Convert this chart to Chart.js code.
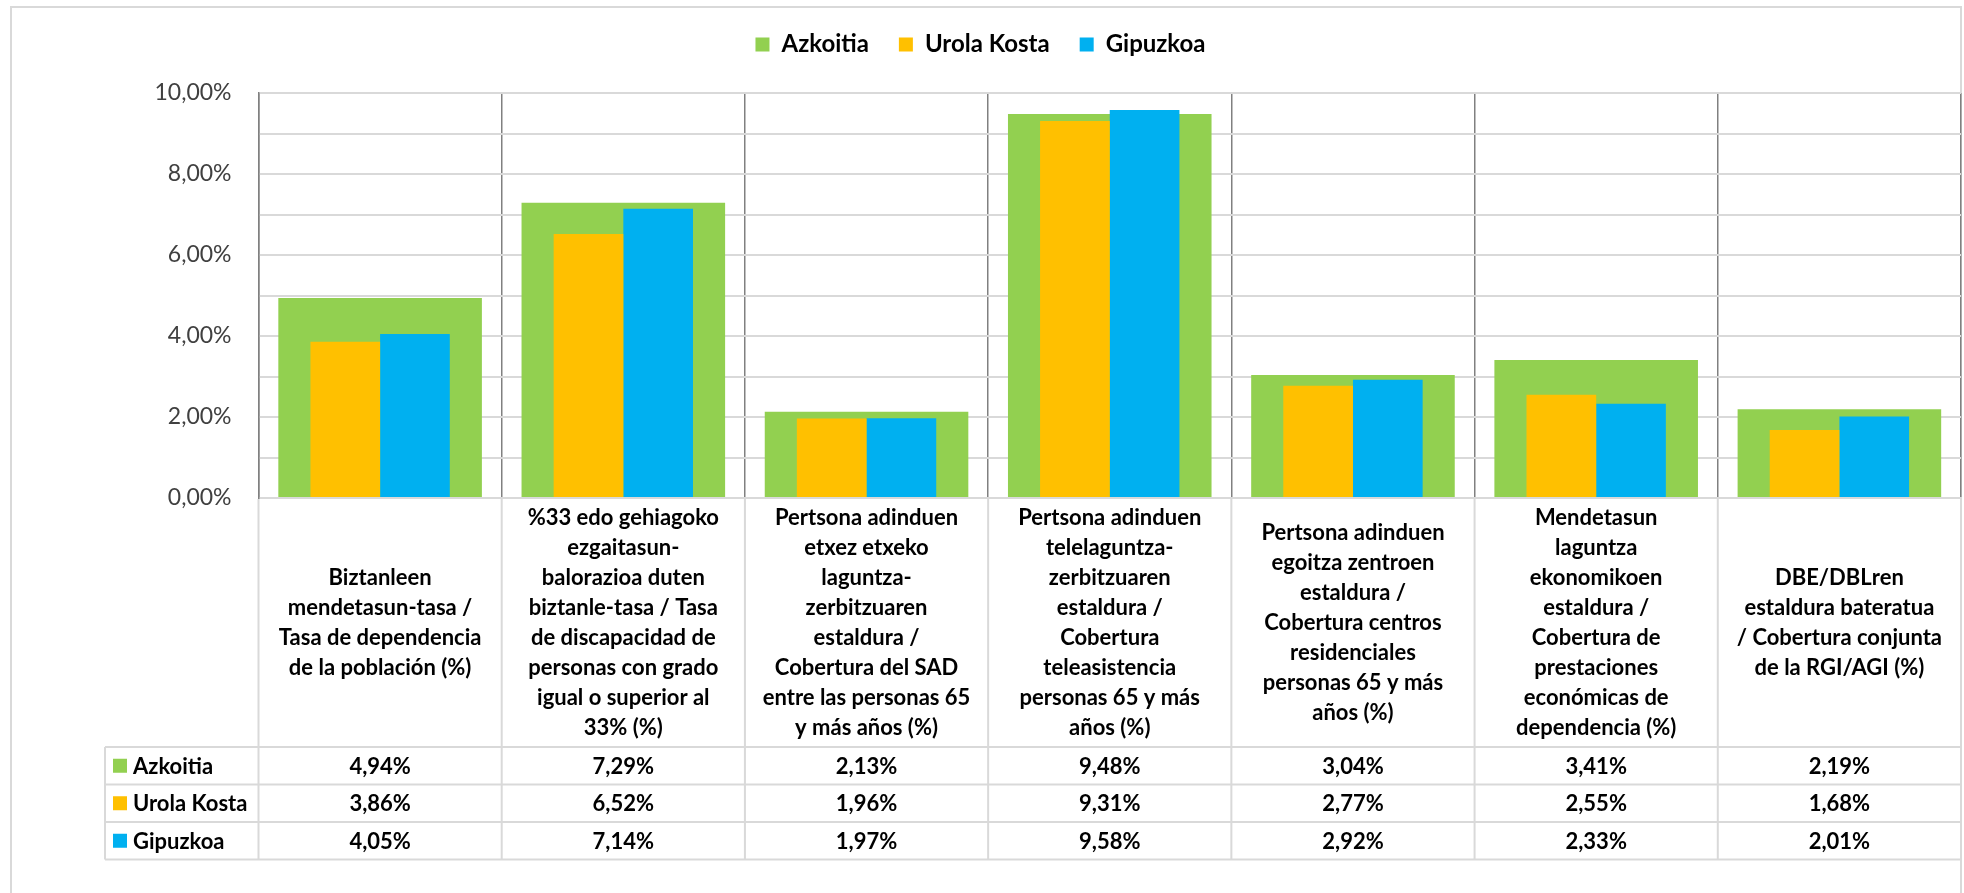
<!DOCTYPE html>
<html>
<head>
<meta charset="utf-8">
<script src="https://cdn.jsdelivr.net/npm/chart.js@4"></script>
<style>
    html, body { margin: 0; padding: 0; background: #ffffff; }
    #wrap { width: 1964px; height: 893px; }
</style>
</head>
<body>
<div id="wrap"><canvas id="container" width="1964" height="893"></canvas></div>
<script>
// category labels, one line per array entry (as wrapped in the original)
const categories = [
    ['Biztanleen', 'mendetasun-tasa /', 'Tasa de dependencia', 'de la población (%)'],
    ['%33 edo gehiagoko', 'ezgaitasun-', 'balorazioa duten', 'biztanle-tasa / Tasa', 'de discapacidad de', 'personas con grado', 'igual o superior al', '33% (%)'],
    ['Pertsona adinduen', 'etxez etxeko', 'laguntza-', 'zerbitzuaren', 'estaldura /', 'Cobertura del SAD', 'entre las personas 65', 'y más años (%)'],
    ['Pertsona adinduen', 'telelaguntza-', 'zerbitzuaren', 'estaldura /', 'Cobertura', 'teleasistencia', 'personas 65 y más', 'años (%)'],
    ['Pertsona adinduen', 'egoitza zentroen', 'estaldura /', 'Cobertura centros', 'residenciales', 'personas 65 y más', 'años (%)'],
    ['Mendetasun', 'laguntza', 'ekonomikoen', 'estaldura /', 'Cobertura de', 'prestaciones', 'económicas de', 'dependencia (%)'],
    ['DBE/DBLren', 'estaldura bateratua', '/ Cobertura conjunta', 'de la RGI/AGI (%)']
];

const seriesNames = ['Azkoitia', 'Urola Kosta', 'Gipuzkoa'];
const azkoitia = [4.94, 7.29, 2.13, 9.48, 3.04, 3.41, 2.19];
const urolaKosta = [3.86, 6.52, 1.96, 9.31, 2.77, 2.55, 1.68];
const gipuzkoa = [4.05, 7.14, 1.97, 9.58, 2.92, 2.33, 2.01];

const yMin = 0;
const yMax = 10;
const yStep = 1;

const colors = ['#92d050', '#ffc000', '#00b0f0'];

function pct(v) {
    return v.toFixed(2).replace('.', ',') + '%';
}

Chart.defaults.font.family = 'Lato';
Chart.defaults.color = '#000000';

// white background + outer frame
const frame = {
    id: 'frame',
    beforeDraw(chart) {
        const ctx = chart.ctx;
        ctx.save();
        ctx.fillStyle = '#ffffff';
        ctx.fillRect(0, 0, chart.width, chart.height);
        ctx.strokeStyle = '#d9d9d9';
        ctx.lineWidth = 2;
        ctx.strokeRect(11, 7, 1950, 1000);
        ctx.restore();
    }
};

// pushes the plot down below the legend
const legendGap = {
    id: 'legendGap',
    beforeInit(chart) {
        const fit = chart.legend.fit;
        chart.legend.fit = function () {
            fit.bind(chart.legend)();
            this.height += 26.5;
        };
    }
};

// data table under the plot
const dataTable = {
    id: 'dataTable',
    afterDraw(chart) {
        const { ctx, chartArea, scales: { x } } = chart;
        const n = categories.length;
        const colW = chartArea.width / n;
        const top = chartArea.bottom;
        const headerBottom = top + 249;
        const rowH = 37.5;
        const tableLeft = 105;
        const tableBottom = headerBottom + rowH * 3;
        const lineH = 30;

        ctx.save();
        ctx.strokeStyle = '#d9d9d9';
        ctx.lineWidth = 2;
        ctx.beginPath();
        for (let r = 0; r <= 3; r++) {
            const y = headerBottom + r * rowH;
            ctx.moveTo(tableLeft, y);
            ctx.lineTo(chartArea.right, y);
        }
        for (let i = 0; i <= n; i++) {
            const xi = chartArea.left + i * colW;
            ctx.moveTo(xi, top + 1);
            ctx.lineTo(xi, tableBottom);
        }
        ctx.moveTo(tableLeft, headerBottom);
        ctx.lineTo(tableLeft, tableBottom);
        ctx.stroke();

        ctx.fillStyle = '#000000';
        ctx.font = 'bold 22px Lato';
        ctx.textAlign = 'center';
        ctx.textBaseline = 'middle';
        const headerMid = (top + headerBottom) / 2;
        categories.forEach((lines, i) => {
            const cx = x.getPixelForValue(i);
            const start = headerMid - (lines.length - 1) * lineH / 2;
            lines.forEach((line, j) => ctx.fillText(line, cx, start + j * lineH));
        });

        chart.data.datasets.forEach((ds, r) => {
            const cy = headerBottom + rowH * (r + 0.5);
            ctx.fillStyle = ds.backgroundColor;
            ctx.fillRect(113, cy - 7, 14, 14);
            ctx.fillStyle = '#000000';
            ctx.textAlign = 'left';
            ctx.fillText(ds.label, 133, cy + 1);
            ctx.textAlign = 'center';
            ds.data.forEach((v, i) => ctx.fillText(pct(v), x.getPixelForValue(i), cy + 1));
        });
        ctx.restore();
    }
};

const ctx = document.getElementById('container').getContext('2d');

const chart = new Chart(ctx, {
    type: 'bar',
    data: {
        labels: categories,
        datasets: [
            {
                // wide bar behind the other two
                label: seriesNames[0],
                data: azkoitia,
                backgroundColor: colors[0],
                borderWidth: 0,
                grouped: false,
                order: 2,
                categoryPercentage: 1,
                barPercentage: 0.837
            },
            {
                label: seriesNames[1],
                data: urolaKosta,
                backgroundColor: colors[1],
                borderWidth: 0,
                order: 1,
                categoryPercentage: 0.573,
                barPercentage: 1
            },
            {
                label: seriesNames[2],
                data: gipuzkoa,
                backgroundColor: colors[2],
                borderWidth: 0,
                order: 1,
                categoryPercentage: 0.573,
                barPercentage: 1
            }
        ]
    },
    options: {
        responsive: false,
        animation: false,
        devicePixelRatio: 1,
        layout: {
            padding: { top: 2.5, left: 0, right: 3, bottom: 395 }
        },
        plugins: {
            tooltip: { enabled: false },
            legend: {
                position: 'top',
                labels: {
                    boxWidth: 14,
                    boxHeight: 14,
                    padding: 30,
                    color: '#000000',
                    font: { size: 24, weight: 'bold' },
                    sort: (a, b) => a.datasetIndex - b.datasetIndex
                }
            }
        },
        scales: {
            x: {
                offset: true,
                ticks: { display: false },
                grid: { color: '#808080', lineWidth: 1.5, drawTicks: false, offset: true },
                border: { color: '#d9d9d9', width: 2 },
                afterFit: (s) => { s.height = 0; }
            },
            y: {
                min: yMin,
                max: yMax,
                ticks: {
                    stepSize: yStep,
                    padding: 27,
                    color: '#404040',
                    font: { size: 23 },
                    callback: (v) => (v % 2 === 0 ? pct(v) : '')
                },
                grid: { color: '#d9d9d9', lineWidth: 2, drawTicks: false },
                border: { color: '#808080', width: 1.5 },
                afterFit: (s) => { s.width = 258.5; }
            }
        }
    },
    plugins: [frame, legendGap, dataTable]
});
</script>
</body>
</html>
